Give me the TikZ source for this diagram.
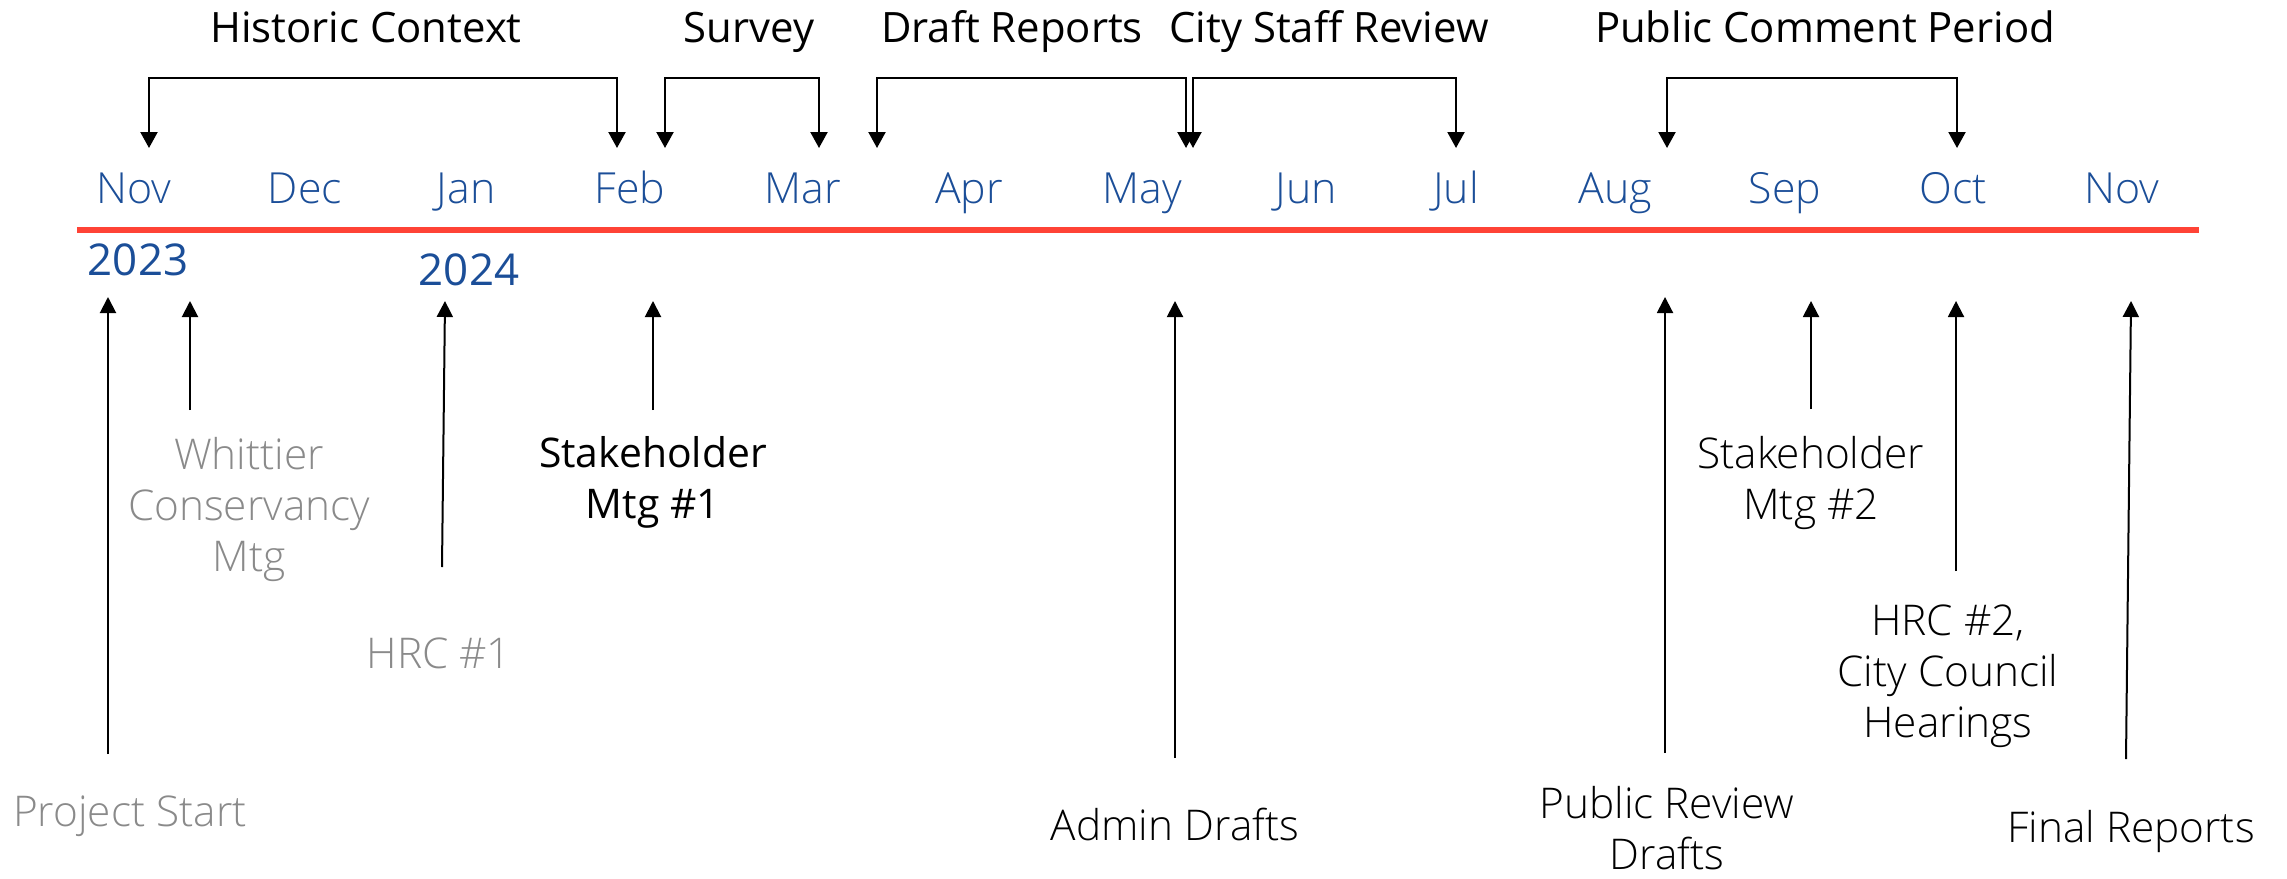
\documentclass[tikz,border=0pt]{standalone}
\usepackage{fontspec}
\setmainfont{Open Sans}
\newfontfamily\lightfont{Open Sans Light}
\usetikzlibrary{arrows.meta}
\definecolor{monthblue}{RGB}{27,78,152}
\definecolor{tlred}{RGB}{255,67,54}
\definecolor{evgray}{RGB}{138,138,138}
\begin{document}
\begin{tikzpicture}[x=1bp,y=-1bp,
  month/.style={text=monthblue,font=\lightfont\fontsize{43}{52}\selectfont,anchor=base,inner sep=0},
  yearlbl/.style={text=monthblue,font=\fontsize{44}{52}\selectfont,anchor=base,inner sep=0},
  phase/.style={font=\fontsize{42}{50}\selectfont,anchor=base,inner sep=0},
  lbl/.style={font=\lightfont\fontsize{42.5}{51}\selectfont,align=center,anchor=base,inner sep=0},
  lblreg/.style={font=\fontsize{41}{51}\selectfont,align=center,anchor=base,inner sep=0},
  grey/.style={text=evgray},
  brk/.style={line width=2.2bp,{Triangle[width=17bp,length=16bp]}-{Triangle[width=17bp,length=16bp]}},
  evarrow/.style={line width=2bp,-{Triangle[width=16bp,length=16bp]}}]
\useasboundingbox (0,0) rectangle (2287,878);

% timeline
\coordinate (tlL) at (77,230);
\coordinate (tlR) at (2199,230);
\draw[tlred,line width=6bp] (tlL) -- (tlR);

% months
\node[month] (m1) at (134,203) {Nov};
\node[month] (m2) at (305,203) {Dec};
\node[month] (m3) at (466,203) {Jan};
\node[month] (m4) at (630,203) {Feb};
\node[month] (m5) at (803,203) {Mar};
\node[month] (m6) at (969,203) {Apr};
\node[month] (m7) at (1142,203) {May};
\node[month] (m8) at (1306,203) {Jun};
\node[month] (m9) at (1456,203) {Jul};
\node[month] (m10) at (1615,203) {Aug};
\node[month] (m11) at (1785,203) {Sep};
\node[month] (m12) at (1953,203) {Oct};
\node[month] (m13) at (2122,203) {Nov};

\node[yearlbl] (y23) at (138,275) {2023};
\node[yearlbl] (y24) at (469,285) {2024};

% phases
\node[phase] (hc) at (366,42) {Historic Context};
\node[phase] (sv) at (749,42) {Survey};
\node[phase] (dr) at (1012,42) {Draft Reports};
\node[phase] (cs) at (1329,42) {City Staff Review};
\node[phase] (pc) at (1825,42) {Public Comment Period};

\coordinate (top) at (0,78);
\coordinate (hcL) at (149,148); \coordinate (hcR) at (617,148);
\coordinate (svL) at (665,148); \coordinate (svR) at (819,148);
\coordinate (drL) at (877,148); \coordinate (drR) at (1186,148);
\coordinate (csL) at (1193,148); \coordinate (csR) at (1456,148);
\coordinate (pcL) at (1667,148); \coordinate (pcR) at (1957,148);
\draw[brk] (hcL) -- (hcL |- top) -- (hcR |- top) -- (hcR);
\draw[brk] (svL) -- (svL |- top) -- (svR |- top) -- (svR);
\draw[brk] (drL) -- (drL |- top) -- (drR |- top) -- (drR);
\draw[brk] (csL) -- (csL |- top) -- (csR |- top) -- (csR);
\draw[brk] (pcL) -- (pcL |- top) -- (pcR |- top) -- (pcR);

% events (anchor = baseline of last line)
\node[lbl,grey] (ps) at (130,826) {Project Start};
\node[lbl,grey] (wc) at (249,571) {Whittier\\Conservancy\\Mtg};
\node[lbl,grey] (h1) at (439,668) {HRC \#1};
\node[lblreg] (s1) at (653,518) {Stakeholder\\Mtg \#1};
\node[lbl] (ad) at (1175,840) {Admin Drafts};
\node[lbl] (pr) at (1667,869) {Public Review\\Drafts};
\node[lbl] (s2) at (1811,519) {Stakeholder\\Mtg \#2};
\node[lbl] (h2) at (1948,737) {HRC \#2,\\City Council\\Hearings};
\node[lbl] (fr) at (2131,842) {Final Reports};

\coordinate (psT) at (108,754); \coordinate (psH) at (108,297);
\coordinate (wcT) at (190,410); \coordinate (wcH) at (190,301);
\coordinate (h1T) at (442,567); \coordinate (h1H) at (445,301);
\coordinate (s1T) at (653,410); \coordinate (s1H) at (653,301);
\coordinate (adT) at (1175,758); \coordinate (adH) at (1175,301);
\coordinate (prT) at (1665,753); \coordinate (prH) at (1665,297);
\coordinate (s2T) at (1811,409); \coordinate (s2H) at (1811,301);
\coordinate (h2T) at (1956,571); \coordinate (h2H) at (1956,301);
\coordinate (frT) at (2126,759); \coordinate (frH) at (2131,301);
\foreach \e in {ps,wc,h1,s1,ad,pr,s2,h2,fr}
  \draw[evarrow] (\e T) -- (\e H);
\end{tikzpicture}
\end{document}
